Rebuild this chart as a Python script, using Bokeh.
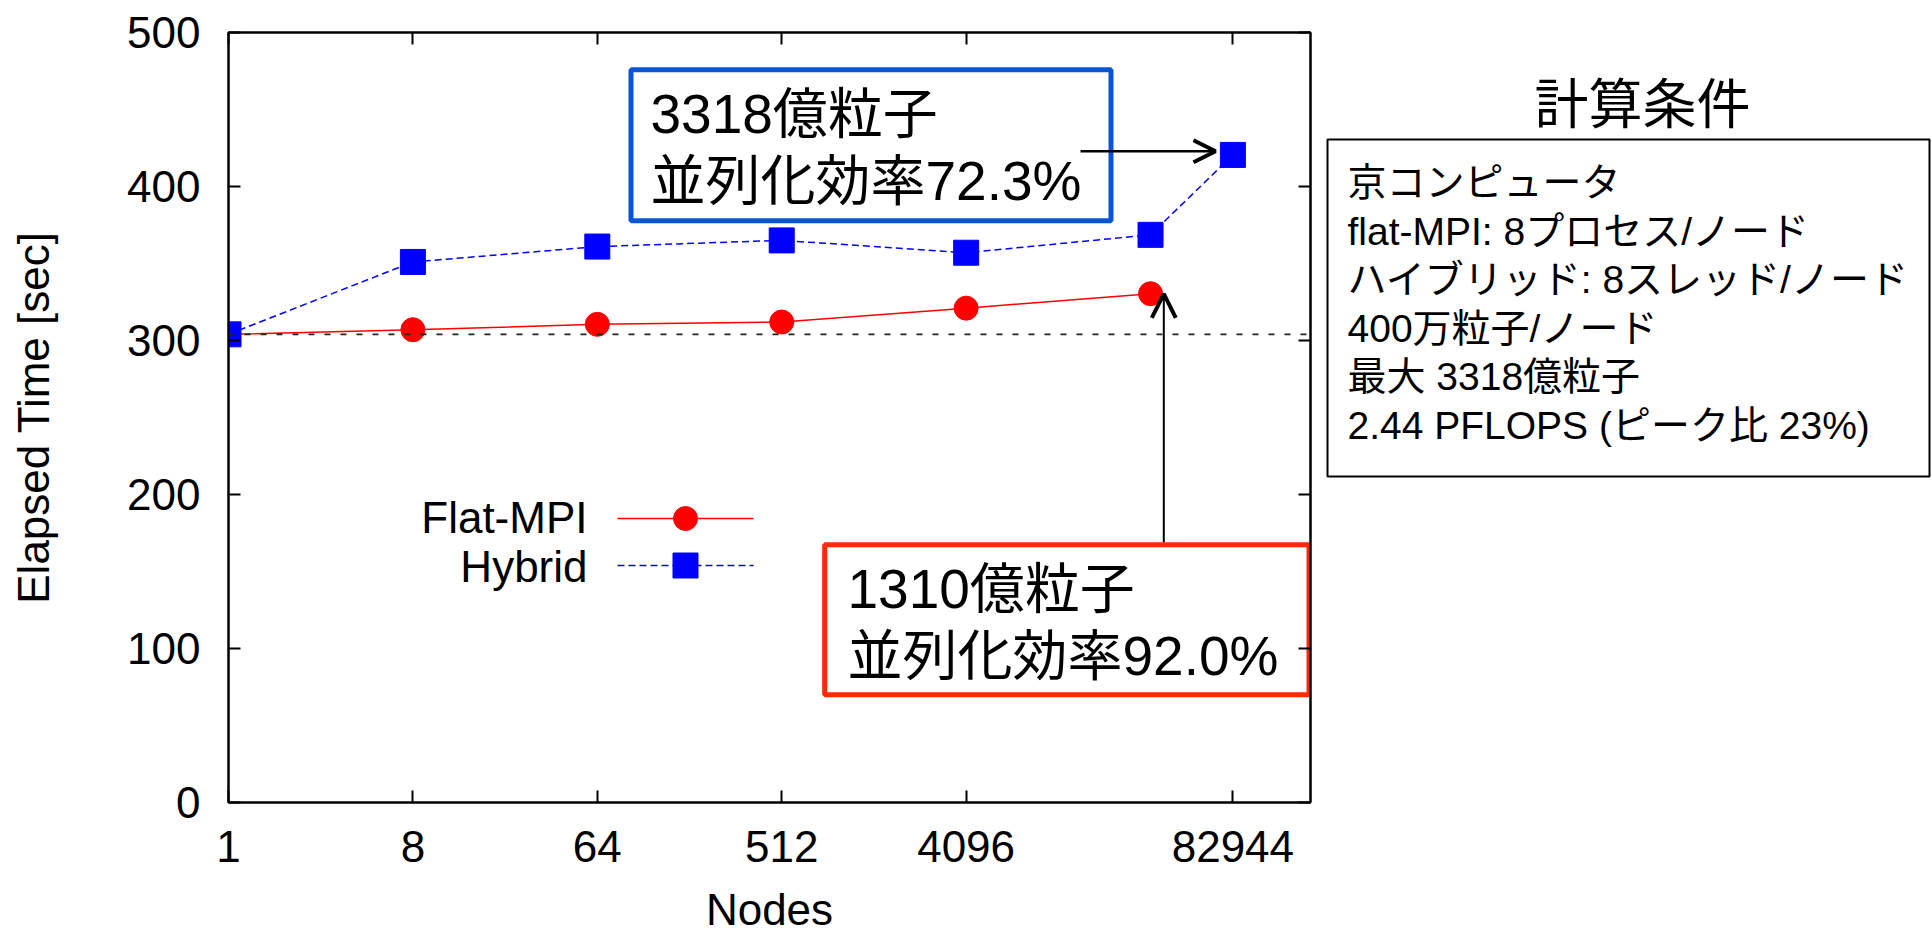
import math
from bokeh.plotting import figure
from bokeh.models import (Range1d, FixedTicker, LinearAxis, LogAxis,
                          CustomJSTickFormatter, Span, Arrow, OpenHead)
from bokeh.layouts import row
from bokeh.embed import file_html
from bokeh.resources import INLINE
from bokeh.core.properties import value

# ---------------- data ----------------
nodes_flat = [1, 8, 64, 512, 4096, 32768]
time_flat = [304, 307, 310.5, 312, 321, 330.4]
nodes_hybrid = [1, 8, 64, 512, 4096, 32768, 82944]
time_hybrid = [304, 351, 361, 365, 357, 368.6, 420.5]
x_ticks = [1, 8, 64, 512, 4096, 82944]
x_tick_labels = ["1", "8", "64", "512", "4096", "82944"]
y_ticks = [0, 100, 200, 300, 400, 500]
series_names = ["Flat-MPI", "Hybrid"]
box_hybrid_lines = ["3318億粒子", "並列化効率72.3%"]
box_flat_lines = ["1310億粒子", "並列化効率92.0%"]
cond_title = "計算条件"
cond_lines = ["京コンピュータ",
              "flat-MPI: 8プロセス/ノード",
              "ハイブリッド: 8スレッド/ノード",
              "400万粒子/ノード",
              "最大 3318億粒子",
              "2.44 PFLOPS (ピーク比 23%)"]

FONT = "Liberation Sans, Noto Sans CJK JP"
RED = "#ff0000"
BLUE = "#0000ff"

# frame geometry (pixels) used to place annotations
FL, FR, FT, FB = 228, 1310, 32, 802
XMAX = 199000
YMAX = 500


def dx(px):
    return 2 ** ((px - FL) / (FR - FL) * math.log2(XMAX))


def dy(py):
    return (FB - py) / (FB - FT) * YMAX


p = figure(width=1320, height=937, x_axis_type="log",
           x_range=Range1d(1, XMAX), y_range=Range1d(0, YMAX),
           output_backend="svg", toolbar_location=None,
           min_border_left=FL, min_border_right=1320 - FR,
           min_border_top=FT, min_border_bottom=937 - FB)
p.background_fill_color = "white"
p.border_fill_color = "white"
p.outline_line_color = "black"
p.outline_line_width = 2
p.grid.visible = False

blank = CustomJSTickFormatter(code="return ''")

for ax in [p.xaxis[0], p.yaxis[0]]:
    ax.major_tick_in = 12
    ax.major_tick_out = 0
    ax.minor_tick_line_color = None
    ax.major_tick_line_width = 2
    ax.axis_line_width = 2
    ax.major_label_text_font = FONT
    ax.major_label_text_font_size = "44px"
    ax.major_label_text_color = "black"
    ax.axis_label_text_font = FONT
    ax.axis_label_text_font_size = "44px"
    ax.axis_label_text_font_style = "normal"
    ax.axis_label_text_color = "black"
    ax.major_label_standoff = 28

p.xaxis[0].ticker = FixedTicker(ticks=x_ticks)
p.xaxis[0].major_label_overrides = dict(zip(x_ticks, x_tick_labels))
p.xaxis[0].axis_label = "Nodes"
p.xaxis[0].axis_label_standoff = 20
p.yaxis[0].ticker = FixedTicker(ticks=y_ticks)
p.yaxis[0].axis_label = "Elapsed Time [sec]"
p.yaxis[0].axis_label_standoff = 66

top_axis = LogAxis(ticker=FixedTicker(ticks=x_ticks), formatter=blank,
                   major_tick_in=12, major_tick_out=0, minor_tick_line_color=None,
                   major_tick_line_width=2, axis_line_width=2, major_label_standoff=0)
right_axis = LinearAxis(ticker=FixedTicker(ticks=y_ticks), formatter=blank,
                        major_tick_in=12, major_tick_out=0, minor_tick_line_color=None,
                        major_tick_line_width=2, axis_line_width=2, major_label_standoff=0)
p.add_layout(top_axis, "above")
p.add_layout(right_axis, "right")

# reference line at the single-node time
p.add_layout(Span(location=time_flat[0], dimension="width", line_color="#222222",
                  line_width=1.7, line_dash="6 10"))

# series
p.line(nodes_flat, time_flat, line_color=RED, line_width=1.5)
p.line(nodes_hybrid, time_hybrid, line_color=BLUE, line_width=1.5, line_dash="7 4")
p.scatter(nodes_flat, time_flat, marker="circle", size=24, color=RED)
p.scatter(nodes_hybrid, time_hybrid, marker="square", size=25, color=BLUE)

# legend (gnuplot style: label left, sample right)
p.text(x=[dx(587), dx(587)], y=[dy(517), dy(566)], text=series_names,
       text_font=value(FONT), text_font_size="44px", text_align="right",
       text_baseline="middle", text_color="black")
p.line([dx(617), dx(753)], [dy(518), dy(518)], line_color=RED, line_width=1.5)
p.line([dx(617), dx(753)], [dy(565), dy(565)], line_color=BLUE, line_width=1.5, line_dash="7 4")
p.scatter([dx(685)], [dy(518)], marker="circle", size=24, color=RED)
p.scatter([dx(685)], [dy(565)], marker="square", size=25, color=BLUE)

# annotation boxes
p.quad(left=[dx(630.5)], right=[dx(1110.5)], top=[dy(69.2)], bottom=[dy(220.2)],
       fill_color="white", line_color="#0a55d6", line_width=5)
p.text(x=[dx(650), dx(650)], y=[dy(113), dy(180)], text=box_hybrid_lines,
       text_font=value(FONT), text_font_size="55px", text_baseline="middle",
       text_color="black")
p.quad(left=[dx(824.2)], right=[dx(1308.5)], top=[dy(544.2)], bottom=[dy(694.2)],
       fill_color="white", line_color="#ff2a00", line_width=5)
p.text(x=[dx(847), dx(847)], y=[dy(588), dy(655)], text=box_flat_lines,
       text_font=value(FONT), text_font_size="55px", text_baseline="middle",
       text_color="black")

p.add_layout(Arrow(end=OpenHead(size=22, line_width=4, line_color="black"),
                   x_start=dx(1080), y_start=dy(150.7), x_end=dx(1215), y_end=dy(150.7),
                   line_width=2.5, line_color="black"))
p.add_layout(Arrow(end=OpenHead(size=24, line_width=4, line_color="black"),
                   x_start=dx(1163.3), y_start=dy(541.7), x_end=dx(1163.3), y_end=dy(293.3),
                   line_width=2, line_color="black"))

# ---------------- right panel: conditions ----------------
# its frame is aligned with the main frame (rows align frames), so map canvas px
q = figure(width=612, height=937, x_range=Range1d(1320, 1932), y_range=Range1d(FB, FT),
           output_backend="svg", toolbar_location=None,
           x_axis_location=None, y_axis_location=None,
           min_border_left=0, min_border_right=0, min_border_top=FT, min_border_bottom=937 - FB)
q.outline_line_color = None
q.grid.visible = False
q.background_fill_color = "white"
q.border_fill_color = "white"

q.text(x=[1642], y=[104], text=[cond_title], text_font=value(FONT),
       text_font_size="54px", text_align="center", text_baseline="middle",
       text_color="black")
q.quad(left=[1327], right=[1929], top=[139], bottom=[476],
       fill_color=None, line_color="black", line_width=2)
center_y = [182, 230.5, 279, 327.5, 376, 424.5]
q.text(x=[1347] * len(cond_lines), y=center_y, text=cond_lines, text_font=value(FONT),
       text_font_size="39px", text_baseline="middle", text_color="black")

layout = row(p, q, spacing=0)
open("out.html", "w").write(file_html(layout, INLINE))
